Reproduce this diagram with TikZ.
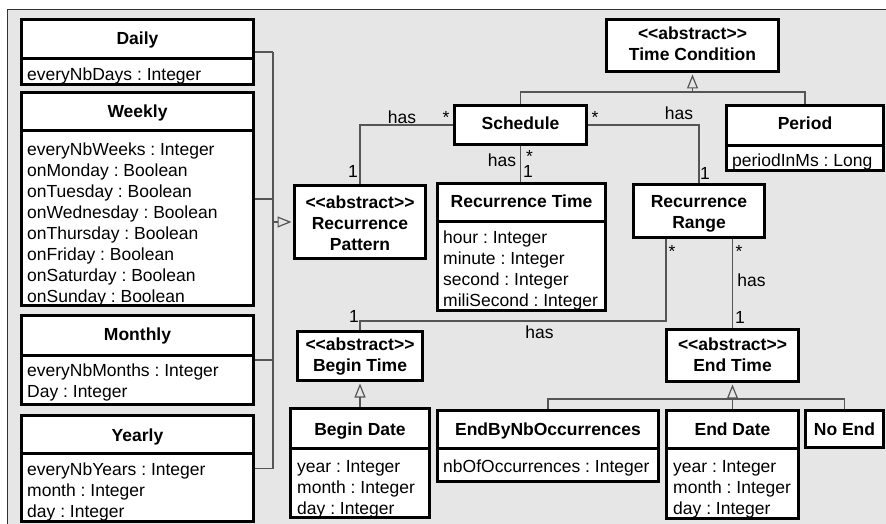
\documentclass[tikz,border=0pt]{standalone}
\usepackage{fontspec}
\setmainfont{Liberation Sans}[Ligatures=TeXOff]
\usetikzlibrary{arrows.meta,fit}
\definecolor{bgc}{RGB}{230,230,230}
\definecolor{lnc}{RGB}{85,85,85}
\definecolor{frc}{RGB}{50,50,50}
\pgfdeclarelayer{bglayer}
\pgfdeclarelayer{connlayer}
\pgfsetlayers{bglayer,connlayer,main}
\newcommand\umlfs{\fontsize{17.5}{21}\selectfont\frenchspacing}
\newcommand\umlst{\rule{0pt}{13pt}}
\begin{document}
\frenchspacing
\begin{tikzpicture}[x=1pt,y=-1pt,
  box/.style={draw=black,line width=3pt,fill=white,inner sep=0pt,rectangle},
  sepl/.style={draw=black,line width=3pt},
  conn/.style={draw=lnc,line width=1.2pt},
  gen/.style={conn,shorten >=1.5pt,-{Triangle[open,length=14pt,width=11pt]}},
  ttl/.style={font=\umlfs\bfseries,inner sep=0pt,anchor=base},
  ttlm/.style={font=\umlfs\bfseries,inner sep=0pt,anchor=north,align=center},
  attr/.style={font=\umlfs,inner sep=0pt,anchor=north west,align=left},
  lbl/.style={font=\umlfs,inner sep=0pt,anchor=base},
]
\useasboundingbox (0,0) rectangle (886,524);
\clip (0,0) rectangle (886,524);

% ---- boxes ----
\node[box,fit={(21.5,19.5)(253.5,84.5)}] (daily) {};
\node[box,fit={(21.5,92.5)(253.5,305.5)}] (weekly) {};
\node[box,fit={(21.5,315.5)(253.5,404.5)}] (monthly) {};
\node[box,fit={(21.5,415.5)(253.5,521.5)}] (yearly) {};
\node[box,fit={(606.5,19.5)(778.5,71.5)}] (timecond) {};
\node[box,fit={(454.5,105.5)(586.5,144.5)}] (schedule) {};
\node[box,fit={(726.5,105.5)(883.5,170.5)}] (period) {};
\node[box,fit={(294.5,185.5)(425.5,258.5)}] (pattern) {};
\node[box,fit={(437.5,183.5)(605.5,310.5)}] (rtime) {};
\node[box,fit={(633.5,184.5)(764.5,237.5)}] (range) {};
\node[box,fit={(297.5,331.5)(422.5,380.5)}] (begintime) {};
\node[box,fit={(290.5,408.5)(429.5,517.5)}] (begindate) {};
\node[box,fit={(437.5,410.5)(658.5,481.5)}] (endbynb) {};
\node[box,fit={(666.5,329.5)(798.5,381.5)}] (endtime) {};
\node[box,fit={(666.5,410.5)(798.5,518.5)}] (enddate) {};
\node[box,fit={(805.5,410.5)(883.5,447.5)}] (noend) {};

% ---- header separators ----
\draw[sepl] (daily.west |- 0,59) -- (daily.east |- 0,59);
\draw[sepl] (weekly.west |- 0,131) -- (weekly.east |- 0,131);
\draw[sepl] (monthly.west |- 0,355) -- (monthly.east |- 0,355);
\draw[sepl] (yearly.west |- 0,453.3) -- (yearly.east |- 0,453.3);
\draw[sepl] (period.west |- 0,145.3) -- (period.east |- 0,145.3);
\draw[sepl] (rtime.west |- 0,221.7) -- (rtime.east |- 0,221.7);
\draw[sepl] (begindate.west |- 0,448.3) -- (begindate.east |- 0,448.3);
\draw[sepl] (endbynb.west |- 0,448.3) -- (endbynb.east |- 0,448.3);
\draw[sepl] (enddate.west |- 0,448.3) -- (enddate.east |- 0,448.3);

% ---- titles ----
\node[ttl] (daily-t) at (daily.north |- 0,45) {Daily};
\node[ttl] (weekly-t) at (weekly.north |- 0,117.5) {Weekly};
\node[ttl] (monthly-t) at (monthly.north |- 0,340) {Monthly};
\node[ttl] (yearly-t) at (yearly.north |- 0,441) {Yearly};
\node[ttl] (schedule-t) at (schedule.north |- 0,130) {Schedule};
\node[ttl] (period-t) at (period.north |- 0,130) {Period};
\node[ttl] (rtime-t) at (rtime.north |- 0,207) {Recurrence Time};
\node[ttl] (begindate-t) at (begindate.north |- 0,435) {Begin Date};
\node[ttl] (endbynb-t) at (endbynb.north |- 0,435) {EndByNbOccurrences};
\node[ttl] (enddate-t) at (enddate.north |- 0,435) {End Date};
\node[ttl] (noend-t) at (noend.north |- 0,435) {No End};
\node[ttlm] (timecond-t) at (timecond.north |- 0,26) {\umlst<<abstract>>\\Time Condition};
\node[ttlm] (pattern-t) at (pattern.north |- 0,195) {\umlst<<abstract>>\\Recurrence\\Pattern};
\node[ttlm] (range-t) at (range.north |- 0,194.5) {\umlst Recurrence\\Range};
\node[ttlm] (begintime-t) at (begintime.north |- 0,337.5) {\umlst<<abstract>>\\Begin Time};
\node[ttlm] (endtime-t) at (endtime.north |- 0,337.5) {\umlst<<abstract>>\\End Time};

% ---- attributes ----
\node[attr] (daily-a) at (27,67.5) {\umlst everyNbDays : Integer};
\node[attr] (weekly-a) at (27,142) {\umlst everyNbWeeks : Integer\\onMonday : Boolean\\onTuesday : Boolean\\onWednesday : Boolean\\onThursday : Boolean\\onFriday : Boolean\\onSaturday : Boolean\\onSunday : Boolean};
\node[attr] (monthly-a) at (27,363) {\umlst everyNbMonths : Integer\\Day : Integer};
\node[attr] (yearly-a) at (27,462.5) {\umlst everyNbYears : Integer\\month : Integer\\day : Integer};
\node[attr] (period-a) at (732,153) {\umlst periodInMs : Long};
\node[attr] (rtime-a) at (443,230.5) {\umlst hour : Integer\\minute : Integer\\second : Integer\\miliSecond : Integer};
\node[attr] (begindate-a) at (297,459) {\umlst year : Integer\\month : Integer\\day : Integer};
\node[attr] (endbynb-a) at (443,459) {\umlst nbOfOccurrences : Integer};
\node[attr] (enddate-a) at (673,459) {\umlst year : Integer\\month : Integer\\day : Integer};

% ---- connector labels ----
\node[lbl] (l1) at (402,124) {has};
\node[lbl] (l2) at (446,124) {*};
\node[lbl] (l3) at (353,177) {1};
\node[lbl] (l4) at (502,167) {has};
\node[lbl] (l5) at (529.5,163) {*};
\node[lbl] (l6) at (528,177.5) {1};
\node[lbl] (l7) at (595,124) {*};
\node[lbl] (l8) at (679,120) {has};
\node[lbl] (l9) at (705,179) {1};
\node[lbl] (l10) at (672,257) {*};
\node[lbl] (l11) at (739,257) {*};
\node[lbl] (l12) at (751.5,286) {has};
\node[lbl] (l13) at (740,323) {1};
\node[lbl] (l14) at (539.5,338.5) {has};
\node[lbl] (l15) at (354,322) {1};

% ---- background frame ----
\begin{pgfonlayer}{bglayer}
\fill[bgc] (7,10) rectangle (900,540);
\draw[frc,line width=1pt] (7,540) -- (7,10) -- (900,10);
\end{pgfonlayer}

% ---- connectors ----
\begin{pgfonlayer}{connlayer}
\coordinate (lgj) at (273,0 |- pattern.west);
\draw[conn] (daily.east) -- (daily.east -| lgj);
\draw[conn] (weekly.east) -- (weekly.east -| lgj);
\draw[conn] (monthly.east) -- (monthly.east -| lgj);
\draw[conn] (yearly.east) -- (yearly.east -| lgj);
\draw[conn] (daily.east -| lgj) -- (yearly.east -| lgj);
\draw[gen] (lgj) -- (pattern.west);

\draw[conn] (schedule.west) -| (pattern.north);
\draw[conn] (schedule.south) -- (schedule.south |- rtime.north);
\draw[conn] (schedule.east) -| (range.north);

\coordinate (tcj) at (timecond.south |- 0,92);
\draw[conn] (schedule.north) -- (schedule.north |- tcj) -- (period.north |- tcj) -- (period.north);
\draw[gen] (tcj) -- (timecond.south);

\coordinate (rb1) at (666,0 |- range.south);
\coordinate (rbj) at (666,321);
\draw[conn] (rb1) -- (rbj) -| (begintime.north);
\draw[conn] (range.south -| endtime.north) -- (endtime.north);

\draw[gen] (begindate.north) -- (begintime.south);

\coordinate (etj) at (enddate.north |- 0,399);
\draw[conn] (endbynb.north) -- (endbynb.north |- etj) -- (noend.north |- etj) -- (noend.north);
\draw[gen] (enddate.north) -- (endtime.south);
\end{pgfonlayer}
\end{tikzpicture}
\end{document}
